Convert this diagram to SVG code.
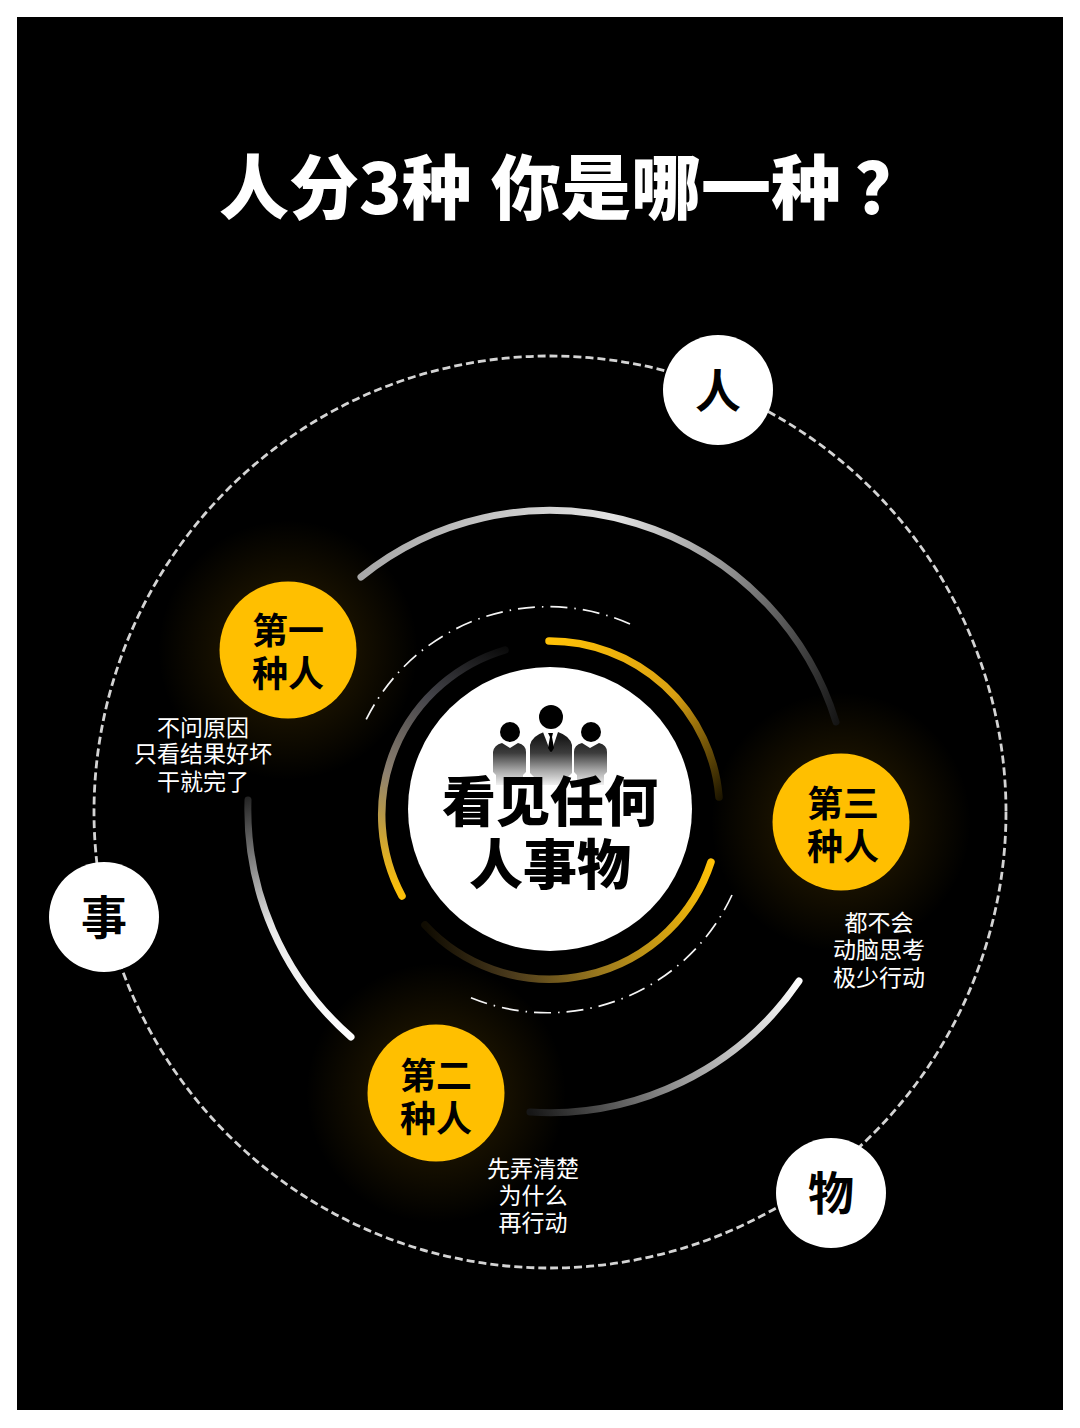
<svg xmlns="http://www.w3.org/2000/svg" width="1080" height="1428" viewBox="0 0 1080 1428">
<style>
text{font-family:"Noto Sans CJK SC","Noto Sans",sans-serif;text-anchor:middle}
.t{font-weight:700;fill:#000}
.d{font-size:23px;fill:#fff;font-weight:400}
.lab{font-size:36px}
.big{font-size:54px;font-weight:900}
.c{font-size:46px}
.arc{fill:none;stroke-linecap:round}
.m{stroke-width:7}
.i{stroke-width:7.500}
.dd{fill:none;stroke:#f4f4f4;stroke-width:1.7;stroke-dasharray:17 7 1.5 7}
.h{font-size:70px;font-weight:900;fill:#fff;text-anchor:start}
</style>
<defs>
<radialGradient id="glow"><stop offset="0" stop-color="#ffb400" stop-opacity=".2"/><stop offset=".52" stop-color="#ffb400" stop-opacity=".09"/><stop offset="1" stop-color="#ffb400" stop-opacity="0"/></radialGradient>
<linearGradient id="m1" gradientUnits="userSpaceOnUse" x1="360" y1="577" x2="838" y2="722"><stop offset="0" stop-color="#a8a8a8"/><stop offset=".45" stop-color="#e4e4e4"/><stop offset=".72" stop-color="#8a8a8a"/><stop offset="1" stop-color="#141414"/></linearGradient>
<linearGradient id="m2" gradientUnits="userSpaceOnUse" x1="800" y1="980" x2="530" y2="1112"><stop offset="0" stop-color="#fff"/><stop offset=".5" stop-color="#9a9a9a"/><stop offset="1" stop-color="#161616"/></linearGradient>
<linearGradient id="m3" gradientUnits="userSpaceOnUse" x1="352" y1="1037" x2="248" y2="790"><stop offset="0" stop-color="#fff"/><stop offset=".5" stop-color="#e8e8e8"/><stop offset="1" stop-color="#1a1a1a"/></linearGradient>
<linearGradient id="i1" gradientUnits="userSpaceOnUse" x1="550" y1="640" x2="720" y2="800"><stop offset="0" stop-color="#ffc107"/><stop offset=".55" stop-color="#d9a012"/><stop offset="1" stop-color="#1c1500"/></linearGradient>
<linearGradient id="i2" gradientUnits="userSpaceOnUse" x1="712" y1="862" x2="425" y2="925"><stop offset="0" stop-color="#ffc107"/><stop offset=".45" stop-color="#9c7a1e"/><stop offset=".75" stop-color="#4a3a1c"/><stop offset="1" stop-color="#100c02"/></linearGradient>
<linearGradient id="i3" gradientUnits="userSpaceOnUse" x1="402" y1="897" x2="510" y2="650"><stop offset="0" stop-color="#ffc107"/><stop offset=".4" stop-color="#8c8070"/><stop offset=".72" stop-color="#44444a"/><stop offset="1" stop-color="#0a0a0a"/></linearGradient>
<linearGradient id="fade" gradientUnits="userSpaceOnUse" x1="0" y1="738" x2="0" y2="788"><stop offset="0" stop-color="#1a1a1a"/><stop offset=".3" stop-color="#3c3c3c"/><stop offset=".65" stop-color="#a8a8a8"/><stop offset="1" stop-color="#fff"/></linearGradient>
</defs>
<rect width="1080" height="1428" fill="#fff"/>
<rect x="17" y="17" width="1046" height="1393" fill="#000"/>
<circle cx="288" cy="650" r="130" fill="url(#glow)"/>
<circle cx="841" cy="822" r="130" fill="url(#glow)"/>
<circle cx="436" cy="1093" r="130" fill="url(#glow)"/>
<text id="title" y="214" class="h"><tspan x="219">人分3种</tspan><tspan x="491">你是哪一种</tspan><tspan x="855">？</tspan></text>
<g id="connectors">
<circle cx="550" cy="812" r="456" style="fill:none;stroke:#d4d4d4;stroke-width:2.800;stroke-dasharray:8 4"/>
<path class="arc m" stroke="url(#m1)" d="M361 577A300 300 0 0 1 836 722"/>
<path class="arc m" stroke="url(#m2)" d="M799 981A302 302 0 0 1 530 1112"/>
<path class="arc m" stroke="url(#m3)" d="M351 1037A302 302 0 0 1 248 800"/>
<path class="arc i" stroke="url(#i1)" d="M549 641A170 170 0 0 1 719 797"/>
<path class="arc i" stroke="url(#i2)" d="M711 862A170 170 0 0 1 425 925"/>
<path class="arc i" stroke="url(#i3)" d="M402 896A172 172 0 0 1 505 650"/>
<path class="dd" d="M630 624A203 203 0 0 0 364 724"/>
<path class="dd" d="M732 895A203 203 0 0 1 467 996"/>
</g>
<g id="center">
<circle cx="550" cy="809" r="142" fill="#fff"/>
<circle cx="510" cy="732" r="10" fill="#000"/>
<circle cx="551" cy="717" r="12" fill="#000"/>
<circle cx="591" cy="732" r="10" fill="#000"/>
<g fill="url(#fade)">
<path d="M493 752q1-7 9-9l8 5 8-5q8 2 8 9v20l-3 3v10h-27v-10l-3-3z"/>
<path d="M574 752q0-7 8-9l8 5 9-5q8 2 8 9v20l-3 3v10h-27v-10l-3-3z"/>
<path d="M530 745q2-9 14-13h14q12 4 14 13v28l-4 4v8h-34v-8l-4-4z"/>
</g>
<path d="M543 732h15l-7 21z" fill="#fff"/>
<path d="M548 733h5l-1 4 2 11-3 5-3-5 2-11z" fill="#000"/>
<text class="t big" x="550" y="822">看见任何</text>
<text class="t big" x="550" y="885">人事物</text>
</g>
<g id="node-ren"><circle cx="718" cy="390" r="55" fill="#fff"/><text class="t c" x="718" y="407">人</text></g>
<g id="node-shi"><circle cx="104" cy="917" r="55" fill="#fff"/><text class="t c" x="104" y="934">事</text></g>
<g id="node-wu"><circle cx="831" cy="1193" r="55" fill="#fff"/><text class="t c" x="831" y="1210">物</text></g>
<g id="type1"><circle cx="288" cy="650" r="68.500" fill="#ffbf00"/><text class="t lab" x="288" y="644">第一</text><text class="t lab" x="288" y="687">种人</text>
<text class="d" x="203" y="736">不问原因</text><text class="d" x="203" y="762">只看结果好坏</text><text class="d" x="203" y="790">干就完了</text></g>
<g id="type3"><circle cx="841" cy="822" r="68.500" fill="#ffbf00"/><text class="t lab" x="843" y="817">第三</text><text class="t lab" x="843" y="860">种人</text>
<text class="d" x="879" y="931">都不会</text><text class="d" x="879" y="958">动脑思考</text><text class="d" x="879" y="986">极少行动</text></g>
<g id="type2"><circle cx="436" cy="1093" r="68.500" fill="#ffbf00"/><text class="t lab" x="436" y="1089">第二</text><text class="t lab" x="436" y="1132">种人</text>
<text class="d" x="533" y="1177">先弄清楚</text><text class="d" x="533" y="1204">为什么</text><text class="d" x="533" y="1231">再行动</text></g>
</svg>
